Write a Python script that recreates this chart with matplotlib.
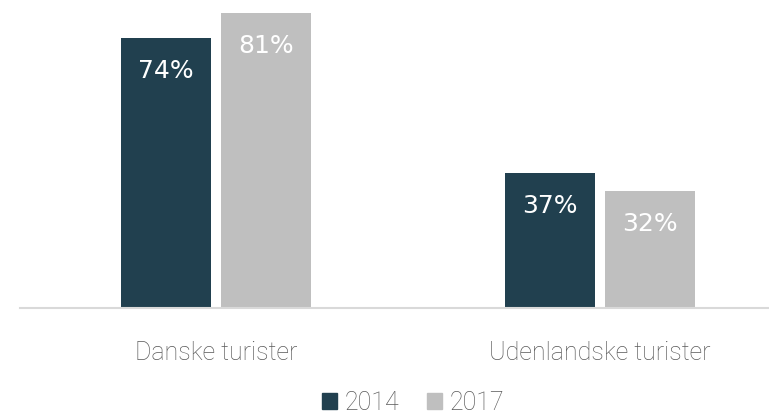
import matplotlib
matplotlib.use("Agg")
import matplotlib.pyplot as plt
from matplotlib.patches import Patch

categories = ["Danske turister", "Udenlandske turister"]
series_names = ["2014", "2017"]
values_2014 = [74, 37]
values_2017 = [81, 32]
colors = ["#21404F", "#BFBFBF"]

W, H = 769, 416
fig = plt.figure(figsize=(W / 100, H / 100), dpi=100)
base_px = 308
left_px = 20
ax = fig.add_axes([left_px / W, (H - base_px) / H, (W - left_px) / W, base_px / H])

group_gap = 384.0
a = -(216 - left_px) / group_gap
b = a + (W - left_px) / group_gap
width = 90 / group_gap
off = 50 / group_gap
x = list(range(len(categories)))

for i, (vals, col) in enumerate(zip([values_2014, values_2017], colors)):
    pos = [xi + (-off if i == 0 else off) for xi in x]
    bars = ax.bar(pos, vals, width=width, color=col, zorder=2)
    for rect, v in zip(bars, vals):
        ax.annotate(f"{v}%", xy=(rect.get_x() + rect.get_width() / 2, v),
                    xytext=(0, -33 * 72 / 100), textcoords="offset points",
                    ha="center", va="center", color="white", fontsize=18,
                    family="DejaVu Sans")

ax.set_xlim(a, b)
ax.set_ylim(0, base_px / 3.645)
for s in ["top", "right", "left"]:
    ax.spines[s].set_visible(False)
ax.spines["bottom"].set_color("#D9D9D9")
ax.spines["bottom"].set_linewidth(1.5)
ax.set_yticks([])
ax.set_xticks(x)
ax.set_xticklabels(categories, fontsize=18, color="#595959", family="Roboto", fontweight="light")
ax.tick_params(axis="x", length=0, pad=24)

handles = [Patch(color=c) for c in colors]
fig.legend(handles, series_names, loc="center", bbox_to_anchor=(413 / W, 1 - 403 / H),
           ncol=2, frameon=False, prop={"family": "Roboto", "weight": "light", "size": 18},
           labelcolor="#595959", handlelength=0.62, handleheight=0.62, handletextpad=0.3,
           columnspacing=1.1, borderpad=0.1)

fig.savefig("out.png", dpi=100)
